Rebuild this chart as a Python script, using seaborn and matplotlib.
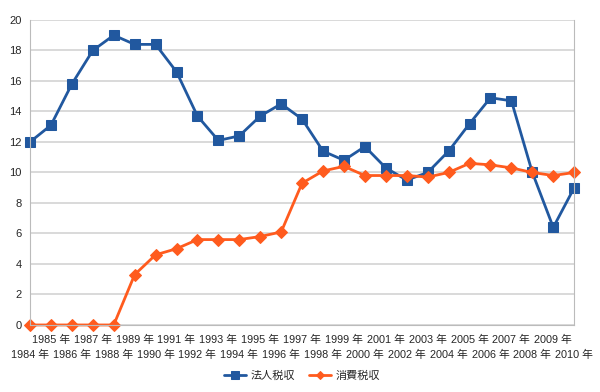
import numpy as np
import pandas as pd
import matplotlib
matplotlib.use("Agg")
import matplotlib.pyplot as plt
import seaborn as sns

# ── data (兆円) ──────────────────────────────────────────────
years = list(range(1984, 2011))
corp_tax = [12.0, 13.1, 15.8, 18.0, 19.0, 18.4, 18.4, 16.6, 13.7, 12.1, 12.4,
            13.7, 14.5, 13.5, 11.4, 10.8, 11.7, 10.3, 9.5, 10.0, 11.4, 13.2,
            14.9, 14.7, 10.0, 6.4, 9.0]
cons_tax = [0, 0, 0, 0, 0, 3.3, 4.6, 5.0, 5.6, 5.6, 5.6, 5.8, 6.1, 9.3, 10.1,
            10.4, 9.8, 9.8, 9.8, 9.7, 10.0, 10.6, 10.5, 10.3, 10.0, 9.8, 10.0]
series_names = ["法人税収", "消費税収"]
y_ticks = list(range(0, 21, 2))

df = pd.DataFrame({"idx": np.arange(len(years)),
                   series_names[0]: corp_tax,
                   series_names[1]: cons_tax})
long = df.melt(id_vars="idx", var_name="series", value_name="value")

sns.set_style("white")
plt.rcParams['font.family'] = ['Liberation Sans', 'Noto Sans CJK JP', 'DejaVu Sans']

fig = plt.figure(figsize=(6, 3.92), dpi=100)
ax = fig.add_axes([0.05, 0.171, 0.907, 0.778])

palette = {series_names[0]: "#21589F", series_names[1]: "#FF5B1E"}
markers = {series_names[0]: "s", series_names[1]: "D"}
sizes = {series_names[0]: 7.5, series_names[1]: 6}

for name in series_names:
    sub = long[long["series"] == name]
    sns.lineplot(data=sub, x="idx", y="value", ax=ax, color=palette[name],
                 marker=markers[name], markersize=sizes[name], linewidth=2,
                 markeredgecolor=palette[name], label=name, clip_on=False)

ax.set_xlim(0, len(years) - 1)
ax.set_ylim(0, 20)
ax.set_yticks(y_ticks)
ax.set_yticklabels([str(t) for t in y_ticks], fontsize=8)

# odd years on the upper row, even years on the lower row
idx = np.arange(len(years))
odd = [i for i in idx if years[i] % 2]
even = [i for i in idx if years[i] % 2 == 0]
ax.set_xticks(odd)
ax.set_xticklabels([f"{years[i]} 年" for i in odd], fontsize=7.8)
ax.set_xticks(even, minor=True)
ax.set_xticklabels([f"{years[i]} 年" for i in even], minor=True, fontsize=7.8)
ax.tick_params(axis="x", which="both", length=5, color="#BBBBBB")
ax.tick_params(axis="x", which="major", pad=2)
ax.tick_params(axis="x", which="minor", pad=13)
ax.tick_params(axis="y", length=0, pad=6)
ax.yaxis.grid(True, color="#D3D3D3", linewidth=1.2)
ax.set_axisbelow(True)
ax.set_xlabel("")
ax.set_ylabel("")
for side in ["left", "bottom", "right"]:
    ax.spines[side].set_visible(True)
    ax.spines[side].set_color("#BBBBBB")
ax.spines["top"].set_visible(False)

ax.legend(loc="center", bbox_to_anchor=(0.5, -0.165), ncol=2,
          frameon=False, fontsize=8, handlelength=2.0, columnspacing=1.2,
          handletextpad=0.4, markerscale=0.7)

plt.savefig("out.png", dpi=100)
